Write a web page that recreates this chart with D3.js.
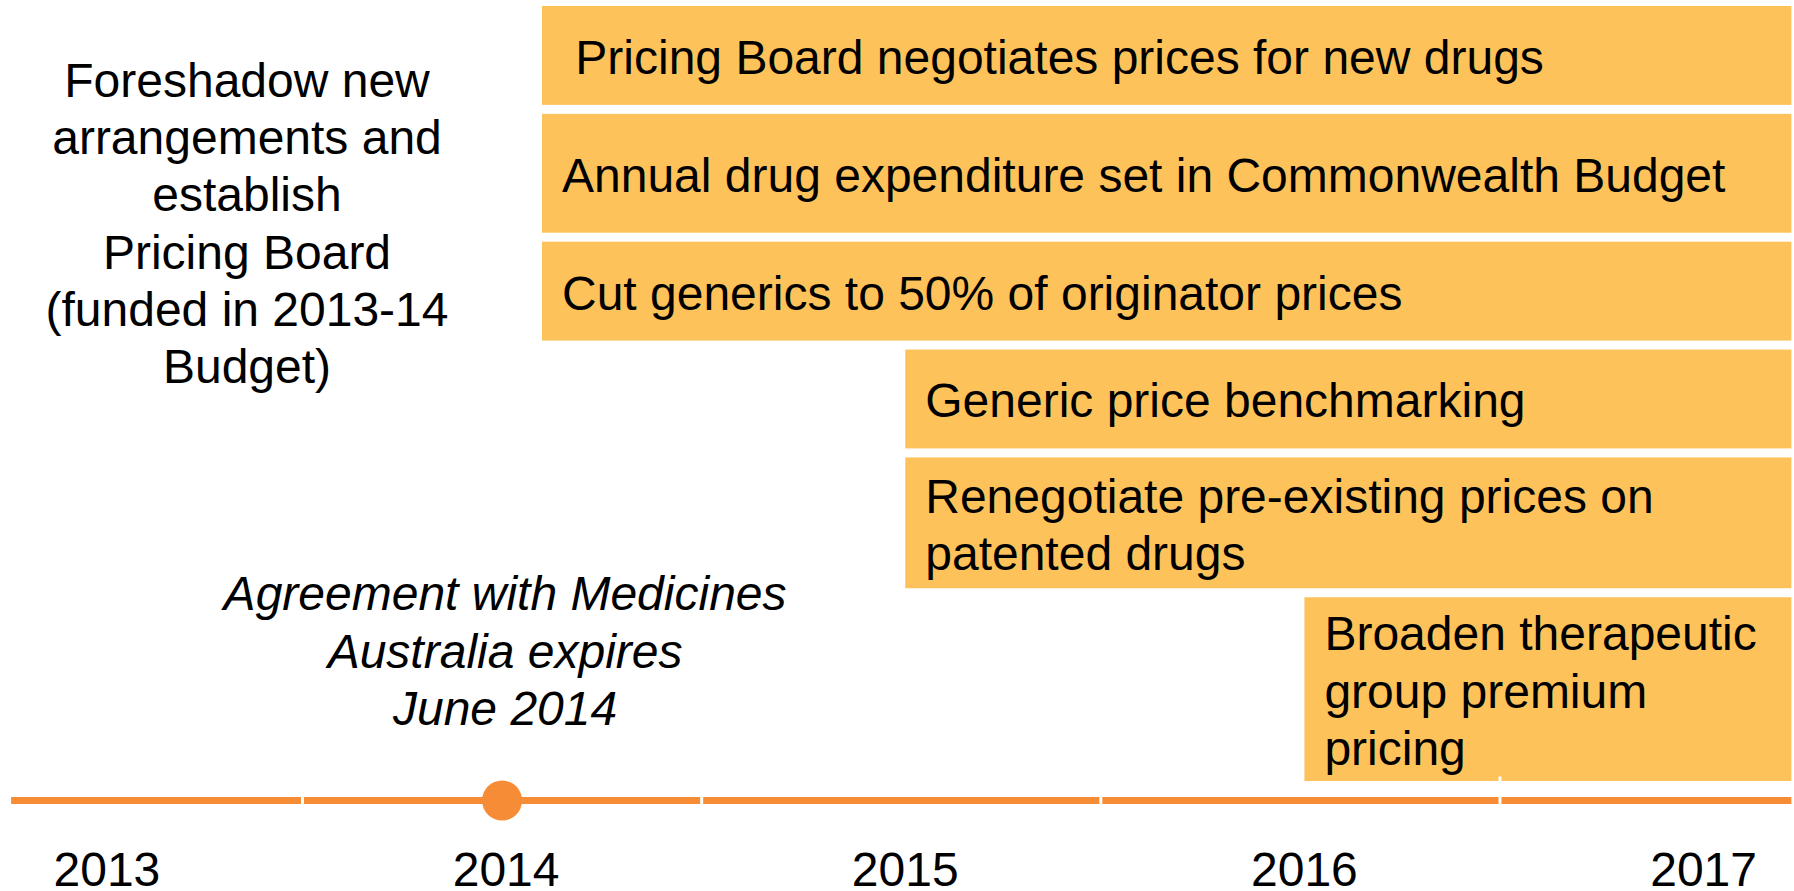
<!DOCTYPE html>
<html>
<head>
<meta charset="utf-8">
<script src="https://cdn.jsdelivr.net/npm/d3@7"></script>
<style>
  body { margin: 0; background: #fff; }
  svg text { font-family: "Liberation Sans", Arial, Helvetica, sans-serif; fill: #000; }
</style>
</head>
<body>
<script>
const width = 1794;
const height = 891;

// tick labels on the timeline
const years = [2013, 2014, 2015, 2016, 2017];
const timelineStart = 2013.27;
const timelineEnd = 2017.73;

// reform steps (start / end as decimal years)
const steps = [
  "\u00a0Pricing Board negotiates prices for new drugs",
  "Annual drug expenditure set in Commonwealth Budget",
  "Cut generics to 50% of originator prices",
  "Generic price benchmarking",
  "Renegotiate pre-existing prices on patented drugs",
  "Broaden therapeutic group premium pricing"
];
const stepStart = [2014.6, 2014.6, 2014.6, 2015.51, 2015.51, 2016.51];
const stepEnd = [2017.73, 2017.73, 2017.73, 2017.73, 2017.73, 2017.73];

// milestone on the line
const milestoneDate = [2014.5];
const milestoneLines = ["Agreement with Medicines", "Australia expires", "June 2014"];

const introLines = ["Foreshadow new", "arrangements and", "establish", "Pricing Board", "(funded in 2013-14", "Budget)"];

// layout
const fontSize = 48;
const lineH = 57.5;
const boxFill = "#fec25a";
const lineColor = "#f68d36";
const rowWeight = [99, 119, 99, 99, 131, 184];
const rowGap = 9;
const lineY = 800.5;

const x = d3.scaleLinear()
  .domain([2014, 2017])
  .range([302.5, 1500]);

// vertical position of rows, in stacked row units
const rowTops = [];
let acc = 0;
rowWeight.forEach((w, i) => { rowTops.push(acc); acc += w + rowGap; });
const total = acc - rowGap;
const y = d3.scaleLinear()
  .domain([0, total])
  .range([6, 781]);

const svg = d3.select("body").append("svg")
  .attr("width", width)
  .attr("height", height)
  .attr("viewBox", [0, 0, width, height]);

// boxes
const rows = steps.map((s, i) => ({
  label: s,
  x0: x(stepStart[i]),
  x1: x(stepEnd[i]),
  y0: y(rowTops[i]),
  y1: y(rowTops[i] + rowWeight[i])
}));

const g = svg.append("g").selectAll("g")
  .data(rows)
  .enter().append("g");

g.append("rect")
  .attr("x", d => d.x0)
  .attr("y", d => d.y0)
  .attr("width", d => d.x1 - d.x0)
  .attr("height", d => d.y1 - d.y0)
  .attr("fill", boxFill);

g.each(function (d) {
  const t = d3.select(this).append("text")
    .attr("font-size", fontSize)
    .style("white-space", "pre");
  const maxW = d.x1 - d.x0 - 40;
  const words = d.label.split(" ");
  const lines = [];
  let cur = "";
  const probe = t.append("tspan");
  words.forEach(w => {
    const test = cur ? cur + " " + w : w;
    probe.text(test);
    if (probe.node().getComputedTextLength() > maxW && cur) {
      lines.push(cur);
      cur = w;
    } else {
      cur = test;
    }
  });
  lines.push(cur);
  probe.remove();
  const cy = (d.y0 + d.y1) / 2;
  const first = cy - (lines.length - 1) * lineH / 2 + 18.5;
  lines.forEach((l, k) => {
    t.append("tspan")
      .attr("x", d.x0 + 20)
      .attr("y", first + k * lineH)
      .text(l);
  });
});

// timeline
svg.append("rect")
  .attr("x", x(timelineStart))
  .attr("y", lineY - 3.5)
  .attr("width", x(timelineEnd) - x(timelineStart))
  .attr("height", 7)
  .attr("fill", lineColor);

svg.append("g").selectAll("line")
  .data(years.slice(1))
  .enter().append("line")
  .attr("x1", d => x(d))
  .attr("x2", d => x(d))
  .attr("y1", d => d === 2017 ? lineY - 24 : lineY - 6)
  .attr("y2", lineY + 6)
  .attr("stroke", "#fff")
  .attr("stroke-width", 3);

svg.selectAll("circle")
  .data(milestoneDate)
  .enter().append("circle")
  .attr("cx", d => x(d))
  .attr("cy", lineY)
  .attr("r", 20)
  .attr("fill", lineColor);

svg.append("g").selectAll("text")
  .data(years)
  .enter().append("text")
  .attr("x", d => x(d + 0.5) + 4)
  .attr("y", 886)
  .attr("text-anchor", "middle")
  .attr("font-size", fontSize)
  .text(d => d);

// milestone annotation
svg.append("text")
  .attr("text-anchor", "middle")
  .attr("font-size", fontSize)
  .attr("font-style", "italic")
  .selectAll("tspan")
  .data(milestoneLines)
  .enter().append("tspan")
  .attr("x", x(milestoneDate[0]) + 3)
  .attr("y", (d, i) => 610 + i * lineH)
  .text(d => d);

// intro text on the left
svg.append("text")
  .attr("text-anchor", "middle")
  .attr("font-size", fontSize)
  .selectAll("tspan")
  .data(introLines)
  .enter().append("tspan")
  .attr("x", 247)
  .attr("y", (d, i) => 97 + i * 57.2)
  .text(d => d);
</script>
</body>
</html>
